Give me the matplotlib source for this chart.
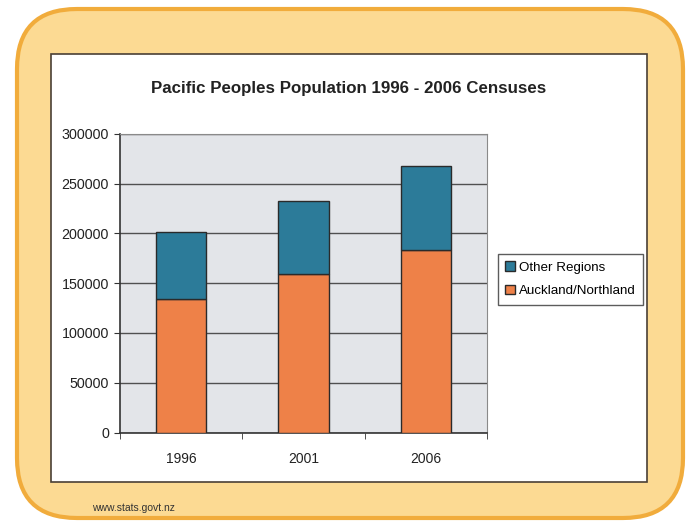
import matplotlib
matplotlib.use("Agg")
import matplotlib.pyplot as plt
from matplotlib.patches import FancyBboxPatch, Rectangle

years = ["1996", "2001", "2006"]
auckland = [134000, 159000, 183000]
other = [68000, 74000, 85000]
yticks = [0, 50000, 100000, 150000, 200000, 250000, 300000]
title = "Pacific Peoples Population 1996 - 2006 Censuses"
source = "www.stats.govt.nz"

plt.rcParams['font.family'] = ['Liberation Sans', 'DejaVu Sans']

W, H = 692, 525
fig = plt.figure(figsize=(W / 100, H / 100), dpi=100)
fig.patch.set_facecolor('white')

# Background decoration axes in pixel coordinates
bg = fig.add_axes([0, 0, 1, 1])
bg.set_xlim(0, W)
bg.set_ylim(H, 0)
bg.axis('off')
bg.add_patch(FancyBboxPatch((17, 9), 666, 509,
                            boxstyle="round,pad=0,rounding_size=60",
                            facecolor='#FCDA93', edgecolor='#F1AC3C', linewidth=3))
bg.add_patch(Rectangle((51, 54), 596, 428, facecolor='white',
                       edgecolor='#4a4036', linewidth=1.2))
bg.text(92, 508, source, fontsize=7.5, color='#333333', va='center', ha='left')
bg.text(349, 89, title, fontsize=12.2, fontweight='bold', color='#222222',
        ha='center', va='center')

# Plot area
x0, x1 = 120, 487
y0, y1 = 134, 432.5
ax = fig.add_axes([x0 / W, 1 - y1 / H, (x1 - x0) / W, (y1 - y0) / H])
ax.set_facecolor('#E3E5E9')
xs = list(range(len(years)))
ax.bar(xs, auckland, width=0.41, color='#EE8148', edgecolor='#2a2a2a',
       linewidth=1.0, label='Auckland/Northland', zorder=3)
ax.bar(xs, other, width=0.41, bottom=auckland, color='#2C7B99',
       edgecolor='#2a2a2a', linewidth=1.0, label='Other Regions', zorder=3)

ax.set_xlim(-0.5, 2.5)
ax.set_ylim(0, 300000)
ax.set_yticks(yticks)
ax.set_yticklabels([str(v) for v in yticks])
ax.yaxis.grid(True, color='#505050', linewidth=1.0, zorder=1)
ax.set_xticks(xs)
ax.set_xticklabels(years)
ax.set_xticks([-0.5, 0.5, 1.5, 2.5], minor=True)
ax.tick_params(axis='x', which='major', length=0, pad=14, labelsize=10,
               colors='#222222')
ax.tick_params(axis='x', which='minor', length=4, color='#333333')
ax.tick_params(axis='y', length=4, color='#333333', labelsize=10.3,
               labelcolor='#222222', pad=4)
for s in ['top', 'right']:
    ax.spines[s].set_color('#8a8a8a')
    ax.spines[s].set_linewidth(0.8)
for s in ['left', 'bottom']:
    ax.spines[s].set_color('#333333')
    ax.spines[s].set_linewidth(1.2)

h, l = ax.get_legend_handles_labels()
leg = fig.legend(h[::-1], l[::-1], loc='upper left',
                 bbox_to_anchor=(498 / W, 1 - 254 / H), borderaxespad=0,
                 fontsize=9.6, frameon=True, fancybox=False,
                 handlelength=0.7, handleheight=0.7, handletextpad=0.3,
                 borderpad=0.55, labelspacing=0.85)
leg.get_frame().set_edgecolor('#333333')
leg.get_frame().set_linewidth(1.0)

fig.savefig('out.png', dpi=100, facecolor='white')
